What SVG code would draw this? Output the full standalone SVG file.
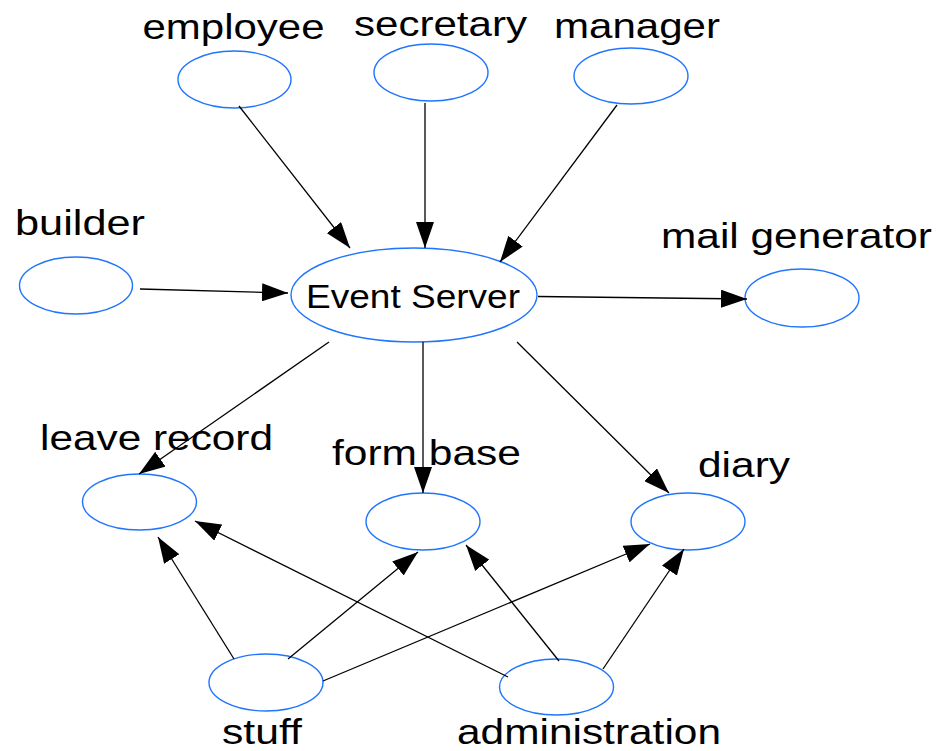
<svg xmlns="http://www.w3.org/2000/svg" width="937" height="751" viewBox="0 0 937 751">
<defs>
<style>
.n{fill:#fff;stroke:#1f75fe;stroke-width:1.4}
.t{font-family:"Liberation Sans",Arial,sans-serif;font-size:35px;fill:#000;text-anchor:middle}
.c line{stroke:#000;stroke-width:1.3;marker-end:url(#ah)}
</style>
<marker id="ah" markerUnits="userSpaceOnUse" viewBox="0 0 26 18" refX="26" refY="9" markerWidth="26" markerHeight="18" orient="auto">
<path d="M0,0 L26,9 L0,18 z" fill="#000"/>
</marker>
</defs>
<rect width="937" height="751" fill="#fff"/>
<g id="employee"><ellipse class="n" cx="234.5" cy="79.5" rx="56.5" ry="28.5"/><text class="t" x="233.5" y="39" textLength="182" lengthAdjust="spacingAndGlyphs">employee</text></g>
<g id="secretary"><ellipse class="n" cx="431" cy="72.5" rx="57" ry="28.5"/><text class="t" x="440.5" y="36" textLength="173" lengthAdjust="spacingAndGlyphs">secretary</text></g>
<g id="manager"><ellipse class="n" cx="631" cy="76" rx="57" ry="28"/><text class="t" x="637" y="38" textLength="166" lengthAdjust="spacingAndGlyphs">manager</text></g>
<g id="builder"><ellipse class="n" cx="76" cy="285.5" rx="56.5" ry="28.5"/><text class="t" x="80" y="235" textLength="130" lengthAdjust="spacingAndGlyphs">builder</text></g>
<g id="event-server"><ellipse class="n" cx="414" cy="295" rx="123" ry="47"/><text class="t" x="413" y="308" style="font-size:33px" textLength="214" lengthAdjust="spacingAndGlyphs">Event Server</text></g>
<g id="mail-generator"><ellipse class="n" cx="802" cy="298" rx="57" ry="29"/><text class="t" x="796.5" y="248" textLength="271" lengthAdjust="spacingAndGlyphs">mail generator</text></g>
<g id="leave-record"><ellipse class="n" cx="139.5" cy="502" rx="57" ry="28"/><text class="t" x="156.5" y="450" textLength="233" lengthAdjust="spacingAndGlyphs">leave record</text></g>
<g id="form-base"><ellipse class="n" cx="423" cy="521.5" rx="57" ry="28.5"/><text class="t" x="426.5" y="465" textLength="189" lengthAdjust="spacingAndGlyphs">form base</text></g>
<g id="diary"><ellipse class="n" cx="688" cy="521.5" rx="57" ry="28.5"/><text class="t" x="744" y="477" textLength="92" lengthAdjust="spacingAndGlyphs">diary</text></g>
<g id="stuff"><ellipse class="n" cx="266" cy="682.5" rx="57" ry="28.5"/><text class="t" x="262" y="744" textLength="80" lengthAdjust="spacingAndGlyphs">stuff</text></g>
<g id="administration"><ellipse class="n" cx="556.5" cy="687" rx="57" ry="28"/><text class="t" x="589" y="744" textLength="264" lengthAdjust="spacingAndGlyphs">administration</text></g>
<g id="connectors" class="c">
<line x1="239" y1="106" x2="350" y2="248"/>
<line x1="425" y1="103" x2="425" y2="248"/>
<line x1="617" y1="105" x2="500" y2="262"/>
<line x1="140" y1="289" x2="288" y2="293"/>
<line x1="538" y1="296.5" x2="747" y2="299"/>
<line x1="329" y1="342" x2="139" y2="474"/>
<line x1="423" y1="342" x2="423" y2="493"/>
<line x1="517" y1="342" x2="669" y2="493"/>
<line x1="234" y1="659" x2="158" y2="537"/>
<line x1="288" y1="659" x2="418" y2="552"/>
<line x1="323" y1="681" x2="650" y2="544"/>
<line x1="508" y1="677" x2="195" y2="521"/>
<line x1="559" y1="661" x2="466" y2="545"/>
<line x1="603" y1="669" x2="684" y2="549"/>
</g>
</svg>
